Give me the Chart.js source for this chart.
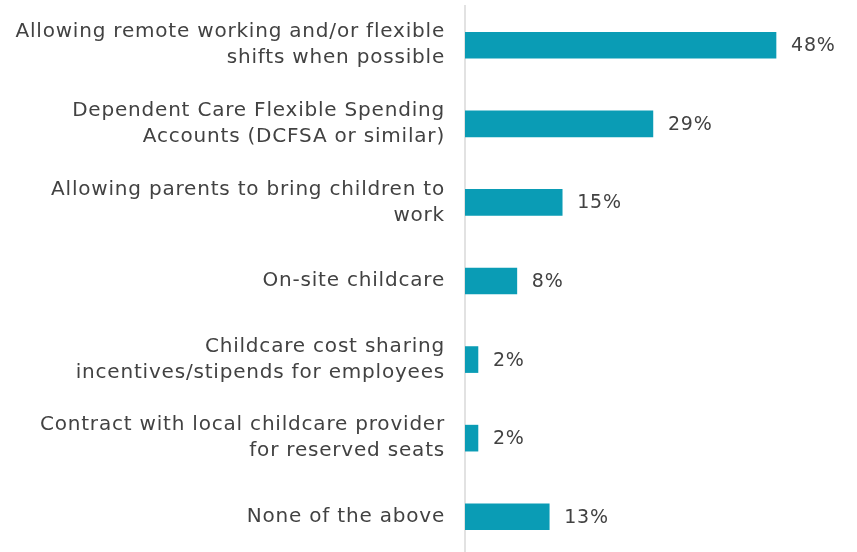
<!DOCTYPE html>
<html>
<head>
<meta charset="utf-8">
<script src="https://cdn.jsdelivr.net/npm/chart.js@4.4.0/dist/chart.umd.min.js"></script>
<style>
  html, body { margin: 0; padding: 0; background: #fff; overflow: hidden; }
  #wrap { width: 857px; height: 556px; }
</style>
</head>
<body>
<div id="wrap"><canvas id="grafik"></canvas></div>
<script>
const kategori = [
    ['Allowing remote working and/or flexible', 'shifts when possible'],
    ['Dependent Care Flexible Spending', 'Accounts (DCFSA or similar)'],
    ['Allowing parents to bring children to', 'work'],
    'On-site childcare',
    ['Childcare cost sharing', 'incentives/stipends for employees'],
    ['Contract with local childcare provider', 'for reserved seats'],
    'None of the above'
];
const persen = [48, 29, 15, 8, 2, 2, 13];

const warnaBatang = '#0a9cb5';
const warnaTeks = '#424242';
const hurufUtama = 'DejaVu Sans';
const jarakHuruf = '0.8px';

// huruf dibuat sedikit lebih renggang (state canvas hilang tiap resize)
const renggang = {
    id: 'renggang',
    beforeLayout(chart) { chart.ctx.letterSpacing = jarakHuruf; },
    beforeDraw(chart) { chart.ctx.letterSpacing = jarakHuruf; }
};

// tulis nilai persen di ujung kanan tiap batang
const labelNilai = {
    id: 'labelNilai',
    afterDatasetsDraw(chart) {
        const ctx = chart.ctx;
        const meta = chart.getDatasetMeta(0);
        ctx.save();
        ctx.font = '19px "' + hurufUtama + '"';
        ctx.fillStyle = warnaTeks;
        ctx.textAlign = 'left';
        ctx.textBaseline = 'middle';
        meta.data.forEach((bar, i) => {
            ctx.fillText(persen[i] + '%', bar.x + 15, bar.y + 1);
        });
        ctx.restore();
    }
};

const ctx = document.getElementById('grafik').getContext('2d');

new Chart(ctx, {
    type: 'bar',
    data: {
        labels: kategori,
        datasets: [{
            data: persen,
            backgroundColor: warnaBatang,
            barThickness: 26
        }]
    },
    options: {
        indexAxis: 'y',
        responsive: true,
        maintainAspectRatio: false,
        animation: false,
        layout: { padding: { top: 6, right: 0, bottom: 0, left: 0 } },
        plugins: {
            legend: { display: false },
            tooltip: { enabled: false }
        },
        scales: {
            x: {
                display: false,
                min: 0,
                max: 60.5
            },
            y: {
                afterFit(scale) {
                    scale.width = 465;
                    scale.paddingTop = 0;
                    scale.paddingBottom = 0;
                },
                grid: { display: false, drawTicks: false },
                border: { display: true, color: '#e2e2e2', width: 2 },
                ticks: {
                    padding: 20,
                    color: warnaTeks,
                    font: { family: hurufUtama, size: 20, lineHeight: 1.3 }
                }
            }
        }
    },
    plugins: [renggang, labelNilai]
});
</script>
</body>
</html>
